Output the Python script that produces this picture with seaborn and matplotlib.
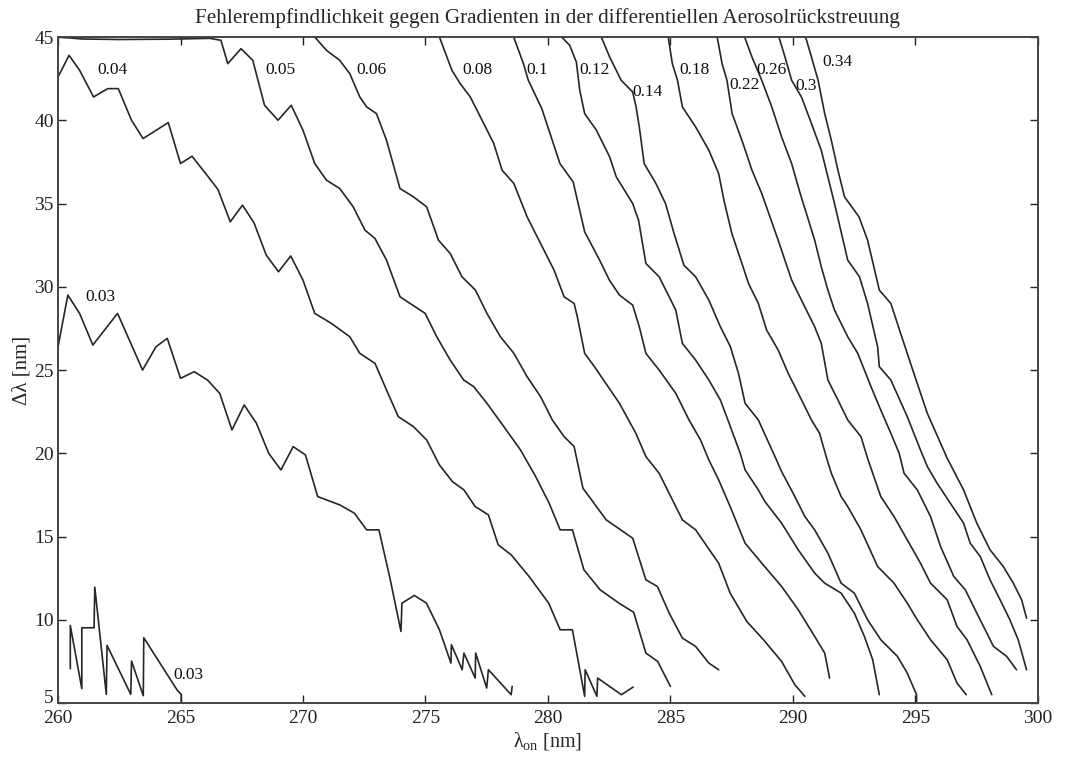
import numpy as np
import pandas as pd
import matplotlib
matplotlib.use('Agg')
import matplotlib.pyplot as plt
import seaborn as sns

# contour lines: lambda_on [nm] / delta lambda [nm]
lam_003a = [260.0, 260.4, 260.88, 261.42, 262.43, 263.45, 264.0, 264.46, 265.0, 265.56,
            266.1, 266.6, 267.1, 267.6, 268.1, 268.6, 269.1, 269.6, 270.1, 270.6,
            271.5, 272.1, 272.6, 273.1, 273.55, 274.0, 274.04, 274.55, 275.04, 275.57,
            276.04, 276.06, 276.5, 276.57, 277.03, 277.05, 277.5, 277.57, 278.5, 278.54]
dl_003a = [26.4, 29.5, 28.4, 26.5, 28.4, 25.0, 26.4, 26.9, 24.5, 24.9,
           24.4, 23.6, 21.4, 22.9, 21.8, 20.0, 19.0, 20.4, 19.9, 17.4,
           16.9, 16.4, 15.4, 15.4, 12.5, 9.3, 11.0, 11.46, 11.0, 9.4,
           7.4, 8.5, 7.0, 8.0, 6.5, 8.0, 5.9, 7.0, 5.5, 6.0]

lam_003b = [260.5, 260.5, 260.97, 260.97, 261.47, 261.5, 261.97, 262.0, 262.97, 263.0,
            263.48, 263.5, 264.87, 265.03, 265.03]
dl_003b = [7.06, 9.66, 5.86, 9.52, 9.52, 11.96, 5.52, 8.46, 5.52, 7.52,
           5.44, 8.92, 5.76, 5.52, 5.0]

lam_004 = [260.0, 260.45, 260.88, 261.45, 262.03, 262.46, 263.0, 263.47, 264.5, 265.0,
           265.47, 266.08, 266.53, 267.03, 267.53, 268.0, 268.5, 269.0, 269.5, 270.0,
           270.48, 271.16, 271.91, 272.32, 272.94, 273.41, 273.89, 274.51, 275.05, 275.57,
           276.1, 276.57, 277.03, 277.57, 277.97, 278.5, 279.23, 280.03, 280.5, 281.0,
           281.5, 281.52, 282.0, 282.03, 283.0, 283.48]
dl_004 = [42.6, 43.9, 43.0, 41.4, 41.9, 41.9, 40.0, 38.9, 39.86, 37.4,
          37.84, 36.7, 35.84, 33.9, 34.9, 33.84, 31.9, 30.9, 31.85, 30.4,
          28.4, 27.8, 27.0, 26.0, 25.4, 23.8, 22.2, 21.6, 20.8, 19.3,
          18.3, 17.8, 16.8, 16.3, 14.5, 13.9, 12.6, 11.0, 9.4, 9.4,
          5.4, 7.0, 5.4, 6.5, 5.5, 5.96]

lam_005 = [260.0, 261.0, 262.5, 264.5, 266.2, 266.65, 266.93, 267.47, 267.95, 268.43,
           268.98, 269.52, 270.0, 270.48, 270.96, 271.5, 272.05, 272.53, 272.94, 273.41,
           273.96, 274.37, 274.99, 275.46, 276.01, 276.56, 276.97, 277.51, 278.2, 278.88,
           279.5, 280.05, 280.5, 281.0, 281.47, 282.13, 282.9, 283.5, 284.0, 284.48, 285.0]
dl_005 = [45.0, 44.88, 44.85, 44.87, 44.92, 44.8, 43.4, 44.3, 43.6, 40.9,
          40.0, 40.9, 39.4, 37.4, 36.4, 35.9, 34.8, 33.4, 32.9, 31.6,
          29.4, 29.0, 28.4, 27.0, 25.6, 24.4, 24.0, 23.0, 21.6, 20.2,
          18.6, 17.0, 15.4, 15.4, 13.0, 11.8, 11.0, 10.45, 8.0, 7.5, 6.0]

lam_006 = [270.48, 270.96, 271.5, 271.91, 272.32, 272.6, 273.0, 273.41, 273.96, 274.51,
           275.05, 275.53, 276.01, 276.49, 277.04, 277.51, 278.06, 278.61, 279.15, 279.7,
           280.18, 280.66, 281.07, 281.43, 282.38, 283.46, 284.0, 284.47, 284.95, 285.49,
           286.03, 286.57, 286.97]
dl_006 = [45.0, 44.2, 43.6, 42.8, 41.4, 40.8, 40.4, 38.8, 35.9, 35.4,
          34.8, 32.8, 32.0, 30.6, 29.8, 28.4, 27.0, 26.0, 24.6, 23.4,
          22.0, 21.0, 20.4, 17.9, 16.0, 14.9, 12.4, 12.0, 10.4, 8.9,
          8.4, 7.4, 7.0]

lam_008 = [275.57, 276.08, 276.42, 276.83, 277.38, 277.79, 278.13, 278.61, 279.15, 279.7,
           280.25, 280.66, 281.07, 281.2, 281.5, 281.9, 282.92, 283.59, 284.0, 284.54,
           285.49, 286.03, 286.97, 287.44, 288.12, 288.8, 289.54, 290.08, 290.49]
dl_008 = [45.0, 43.0, 42.2, 41.4, 39.8, 38.6, 37.0, 36.2, 34.2, 32.6,
          31.0, 29.4, 29.0, 28.2, 26.0, 25.2, 23.0, 21.2, 19.8, 18.8,
          16.0, 15.4, 13.4, 11.6, 9.9, 8.8, 7.5, 6.1, 5.4]

lam_010 = [278.6, 279.0, 279.2, 279.75, 280.49, 281.03, 281.5, 282.11, 282.51, 282.92,
           283.46, 283.73, 284.0, 284.54, 285.22, 285.76, 286.23, 286.57, 286.97, 287.44,
           288.05, 288.73, 289.54, 290.22, 290.89, 291.3, 291.5]
dl_010 = [45.0, 43.4, 42.4, 40.7, 37.4, 36.3, 33.3, 31.6, 30.4, 29.5,
          28.9, 27.6, 26.0, 25.0, 23.6, 22.0, 20.8, 19.6, 18.4, 16.8,
          14.6, 13.4, 12.0, 10.6, 9.0, 8.0, 6.5]

lam_012 = [280.56, 280.89, 281.16, 281.3, 281.5, 281.98, 282.52, 282.79, 283.46, 283.7,
           284.0, 284.54, 284.95, 285.22, 285.49, 286.03, 286.57, 287.04, 287.45, 287.85,
           288.05, 288.59, 288.86, 289.54, 290.22, 290.89, 291.3, 291.97, 292.51, 292.92,
           293.26, 293.53]
dl_012 = [45.0, 44.5, 43.5, 41.8, 40.4, 39.4, 37.8, 36.6, 35.0, 34.0,
          31.4, 30.6, 29.4, 28.6, 26.6, 25.6, 24.4, 23.2, 21.6, 20.0,
          19.0, 17.8, 17.1, 15.8, 14.2, 12.8, 12.2, 11.6, 10.4, 9.0,
          7.6, 5.5]

lam_014 = [282.18, 282.52, 282.99, 283.46, 283.6, 283.73, 283.93, 284.41, 284.8, 285.15,
           285.55, 286.03, 286.57, 287.04, 287.45, 287.78, 288.05, 288.59, 289.27, 289.54,
           290.01, 290.49, 290.89, 291.43, 291.97, 292.51, 293.05, 293.59, 294.27, 294.67,
           295.05, 295.05]
dl_014 = [45.0, 43.8, 42.4, 41.7, 40.8, 39.6, 37.4, 36.2, 35.0, 33.2,
          31.3, 30.6, 29.2, 27.6, 26.4, 24.8, 23.0, 22.0, 19.8, 18.9,
          17.6, 16.2, 15.4, 14.0, 12.2, 11.6, 10.0, 8.8, 7.8, 6.8,
          5.5, 5.0]

lam_018 = [284.91, 285.08, 285.29, 285.49, 286.03, 286.57, 286.97, 287.2, 287.51, 287.92,
           288.19, 288.59, 288.93, 289.4, 289.81, 290.22, 290.76, 291.09, 291.36, 291.57,
           291.97, 292.24, 292.78, 293.46, 294.13, 294.67, 295.08, 295.62, 296.3, 296.7,
           297.08]
dl_018 = [45.0, 43.4, 42.4, 40.8, 39.6, 38.2, 36.8, 35.1, 33.2, 31.4,
          30.2, 29.0, 27.4, 26.2, 24.8, 23.6, 22.0, 21.2, 19.8, 18.8,
          17.4, 16.8, 15.4, 13.2, 12.2, 11.0, 10.0, 8.8, 7.6, 6.2,
          5.5]

lam_022 = [286.91, 287.11, 287.31, 287.52, 287.92, 288.33, 288.73, 289.4, 289.95, 290.35,
           290.89, 291.16, 291.43, 291.84, 292.24, 292.78, 293.05, 293.59, 294.13, 294.67,
           295.21, 295.62, 296.3, 296.7, 297.11, 297.65, 298.12]
dl_022 = [45.0, 43.4, 42.4, 40.4, 38.8, 37.0, 35.6, 32.8, 30.4, 29.2,
          27.6, 26.6, 24.4, 23.2, 22.0, 21.0, 19.7, 17.4, 16.2, 14.8,
          13.4, 12.2, 11.2, 9.6, 8.8, 7.2, 5.5]

lam_026 = [288.03, 288.33, 288.73, 289.14, 289.54, 289.95, 290.3, 290.89, 291.16, 291.43,
           291.7, 292.24, 292.65, 293.19, 293.53, 294.0, 294.34, 294.54, 295.08, 295.62,
           296.03, 296.57, 297.04, 297.51, 297.92, 298.19, 298.73, 299.13]
dl_026 = [45.0, 43.8, 42.4, 40.8, 39.0, 37.4, 35.6, 32.8, 31.2, 29.8,
          28.6, 27.0, 26.0, 24.0, 22.8, 21.2, 20.0, 18.8, 17.8, 16.2,
          14.4, 12.6, 11.8, 10.4, 9.2, 8.4, 7.8, 7.0]

lam_030 = [289.43, 289.68, 289.95, 290.35, 290.76, 291.16, 291.43, 291.7, 292.24, 292.72,
           293.05, 293.46, 293.53, 294.0, 294.67, 295.21, 295.49, 295.89, 296.43, 296.97,
           297.24, 297.65, 298.05, 298.46, 298.86, 299.2, 299.54]
dl_030 = [45.0, 43.8, 42.4, 41.4, 39.8, 38.2, 36.6, 35.0, 31.6, 30.6,
          29.0, 26.4, 25.2, 24.4, 22.2, 20.2, 19.2, 18.2, 17.0, 15.8,
          14.6, 13.8, 12.4, 11.2, 10.0, 8.8, 7.0]

lam_034 = [290.52, 290.76, 291.03, 291.3, 291.57, 291.84, 292.11, 292.7, 293.05, 293.53,
           294.0, 294.4, 294.94, 295.49, 296.3, 296.97, 297.51, 298.05, 298.59, 299.0,
           299.34, 299.54]
dl_034 = [45.0, 43.8, 42.4, 40.4, 38.8, 37.0, 35.4, 34.2, 32.8, 29.8,
          29.0, 27.2, 24.8, 22.4, 19.7, 17.8, 15.8, 14.2, 13.2, 12.2,
          11.2, 10.1]

# inline contour labels
label_text = ['0.03', '0.04', '0.03', '0.05', '0.06', '0.08', '0.1', '0.12',
              '0.14', '0.18', '0.22', '0.26', '0.3', '0.34']
label_x = [261.1, 261.6, 264.7, 268.45, 272.2, 276.5, 279.1, 281.3,
           283.45, 285.35, 287.4, 288.5, 290.1, 291.2]
label_y = [29.4, 43.0, 6.7, 43.0, 43.0, 43.0, 43.0, 43.0,
           41.7, 43.0, 42.1, 43.0, 42.05, 43.5]

contours = [('0.03a', lam_003a, dl_003a), ('0.03b', lam_003b, dl_003b),
            ('0.04', lam_004, dl_004), ('0.05', lam_005, dl_005),
            ('0.06', lam_006, dl_006), ('0.08', lam_008, dl_008),
            ('0.1', lam_010, dl_010), ('0.12', lam_012, dl_012),
            ('0.14', lam_014, dl_014), ('0.18', lam_018, dl_018),
            ('0.22', lam_022, dl_022), ('0.26', lam_026, dl_026),
            ('0.3', lam_030, dl_030), ('0.34', lam_034, dl_034)]

frames = []
for name, xs, ys in contours:
    frames.append(pd.DataFrame({'lam': xs, 'dlam': ys, 'seg': name}))
df = pd.concat(frames, ignore_index=True)

sns.set_style('ticks')
plt.rcParams['font.family'] = ['Liberation Serif', 'DejaVu Serif']
plt.rcParams['mathtext.fontset'] = 'custom'
plt.rcParams['mathtext.rm'] = 'Liberation Serif'
plt.rcParams['mathtext.it'] = 'Liberation Serif:italic'

fig, ax = plt.subplots(figsize=(10.71, 7.63), dpi=100)
fig.subplots_adjust(left=0.0542, right=0.969, bottom=0.0786, top=0.9515)

sns.lineplot(data=df, x='lam', y='dlam', units='seg', estimator=None, sort=False,
             color='#262626', lw=1.2, ax=ax, legend=False)

for t, x, y in zip(label_text, label_x, label_y):
    ax.text(x, y, t, fontsize=12.5, ha='left', va='center', color='#111111')

ax.set_xlim(260, 300)
ax.set_ylim(5, 45)
ax.set_xticks(np.arange(260, 301, 5))
ax.set_yticks(np.arange(5, 46, 5))
ax.tick_params(direction='in', top=True, right=True, length=6, width=1,
               labelsize=14, colors='#222222')
ax.tick_params(axis='x', pad=5)
ax.tick_params(axis='y', pad=3)
for s in ax.spines.values():
    s.set_linewidth(1.4)
    s.set_color('#444444')

# the "5" sits in the corner just above the "260"
fig.canvas.draw()
ax.get_yticklabels()[0].set_va('baseline')

ax.set_title('Fehlerempfindlichkeit gegen Gradienten in der differentiellen Aerosolrückstreuung',
             fontsize=15.2, pad=10)
ax.set_xlabel(r'λ$_{\mathrm{on}}$ [nm]', fontsize=14.5, labelpad=2)
ax.set_ylabel('Δλ [nm]', fontsize=15, labelpad=2)

fig.savefig('out.png', dpi=100, facecolor='white')
